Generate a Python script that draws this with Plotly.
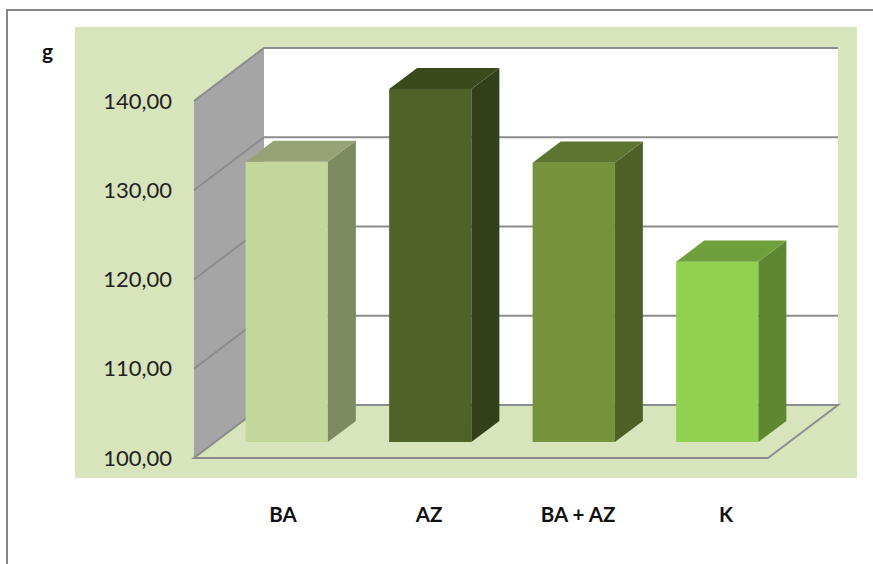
import plotly.graph_objects as go

categories = ["BA", "AZ", "BA + AZ", "K"]
values = [131.4, 139.55, 131.3, 120.2]
y_ticks = [100, 110, 120, 130, 140]
y_tick_labels = ["100,00", "110,00", "120,00", "130,00", "140,00"]
front_colors = ["#c4d79b", "#4f6228", "#76933c", "#92d050"]
side_colors = ["#7e8a60", "#333f19", "#4f6026", "#5e8732"]
top_colors = ["#97a377", "#3a4a1c", "#5d7530", "#6fa03c"]

W, H = 873, 564
FX0, FX1, FY100, FY140 = 194, 768, 458, 101   # front floor / axis pixels
DPX, DPY = 70, 53                              # oblique depth in pixels
PAD = 10
CAT_PX = (FX1 - FX0) / 4
VAL_PX = (FY100 - FY140) / 40
DX, DY = DPX / CAT_PX, DPY / VAL_PX
D0, D1 = 0.3, 0.7
BAR_W = 0.573
LABEL_X_PX = [283, 429, 578, 726]

L, R, T, B = FX0 - PAD, FX1 + DPX + PAD, FY140 - DPY - PAD, FY100 + PAD
x0 = -0.5 - PAD / CAT_PX
x_range = [x0, x0 + (R - L) / CAT_PX]
y0 = 100 - PAD / VAL_PX
y_range = [y0, y0 + (B - T) / VAL_PX]

def px(x):
    return (x - L) / (R - L)

def py(y):
    return (B - y) / (B - T)

def path(pts):
    return "M" + " L".join(f"{a},{b}" for a, b in pts) + " Z"

def open_path(pts):
    return "M" + " L".join(f"{a},{b}" for a, b in pts)

XL, XR, YMIN, YMAX = -0.5, 3.5, 100, 140
GRID = "#8c8c8c"
shapes = [
    dict(type="rect", xref="paper", yref="paper", x0=px(75), x1=px(857), y0=py(478), y1=py(27),
         fillcolor="#d8e4bc", line_width=0, layer="below"),
    dict(type="path", xref="paper", yref="paper", path=open_path([(px(7), py(564)), (px(7), py(10)), (px(873), py(10))]),
         line=dict(color="#868686", width=2), layer="below"),
    dict(type="path", xref="x", yref="y",
         path=path([(XL, YMIN), (XL + DX, YMIN + DY), (XL + DX, YMAX + DY), (XL, YMAX)]),
         fillcolor="#a5a5a5", line_width=0, layer="below"),
    dict(type="path", xref="x", yref="y",
         path=path([(XL + DX, YMIN + DY), (XR + DX, YMIN + DY), (XR + DX, YMAX + DY), (XL + DX, YMAX + DY)]),
         fillcolor="#ffffff", line_width=0, layer="below"),
    dict(type="path", xref="x", yref="y",
         path=path([(XL, YMIN), (XR, YMIN), (XR + DX, YMIN + DY), (XL + DX, YMIN + DY)]),
         fillcolor="#d8e4bc", line=dict(color=GRID, width=2), layer="below"),
]
for t in y_ticks[1:]:
    shapes.append(dict(type="path", xref="x", yref="y",
                       path=open_path([(XL, t), (XL + DX, t + DY), (XR + DX, t + DY)]),
                       line=dict(color=GRID, width=2), layer="below"))

fig = go.Figure()
base = 100 + D0 * DY
fig.add_trace(go.Bar(
    x=[i + D0 * DX for i in range(len(values))],
    y=[v - 100 for v in values],
    base=base,
    width=BAR_W,
    marker=dict(color=front_colors, line_width=0),
    showlegend=False,
    hoverinfo="skip",
))

for i, v in enumerate(values):
    xr = i + D0 * DX + BAR_W / 2
    xl = xr - BAR_W
    ddx, ddy = (D1 - D0) * DX, (D1 - D0) * DY
    top = v + D0 * DY
    fig.add_trace(go.Scatter(
        x=[xr, xr + ddx, xr + ddx, xr, xr], y=[base, base + ddy, top + ddy, top, base],
        mode="lines", fill="toself", fillcolor=side_colors[i], line=dict(width=0),
        showlegend=False, hoverinfo="skip"))
    fig.add_trace(go.Scatter(
        x=[xl, xl + ddx, xr + ddx, xr, xl], y=[top, top + ddy, top + ddy, top, top],
        mode="lines", fill="toself", fillcolor=top_colors[i], line=dict(width=0),
        showlegend=False, hoverinfo="skip"))

fig.update_layout(
    width=W, height=H,
    autosize=False,
    margin=dict(l=L, r=W - R, t=T, b=H - B, pad=0),
    paper_bgcolor="#ffffff",
    plot_bgcolor="rgba(0,0,0,0)",
    shapes=shapes,
    xaxis=dict(
        range=x_range, showgrid=False, zeroline=False, showline=False, ticks="",
        tickmode="array",
        tickvals=[x_range[0] + (p - L) / CAT_PX for p in LABEL_X_PX],
        ticktext=categories,
        tickangle=0,
        ticklabelstandoff=32,
        tickfont=dict(family="Lato", size=20.5, color="#111111", weight=700),
    ),
    yaxis=dict(
        range=y_range, showgrid=False, zeroline=False, showline=False, ticks="",
        tickmode="array", tickvals=y_ticks, ticktext=y_tick_labels,
        ticklabelstandoff=11,
        tickfont=dict(family="Lato", size=22, color="#222222"),
    ),
    annotations=[dict(text="<b>g</b>", xref="paper", yref="paper", x=px(47), y=py(51),
                      xanchor="center", yanchor="middle", showarrow=False,
                      font=dict(family="Lato", size=21, color="#111111"))],
)
fig.write_html("out.html", config=dict(displayModeBar=False),
               post_script="document.body.style.margin='0';document.documentElement.style.overflow='hidden';")
